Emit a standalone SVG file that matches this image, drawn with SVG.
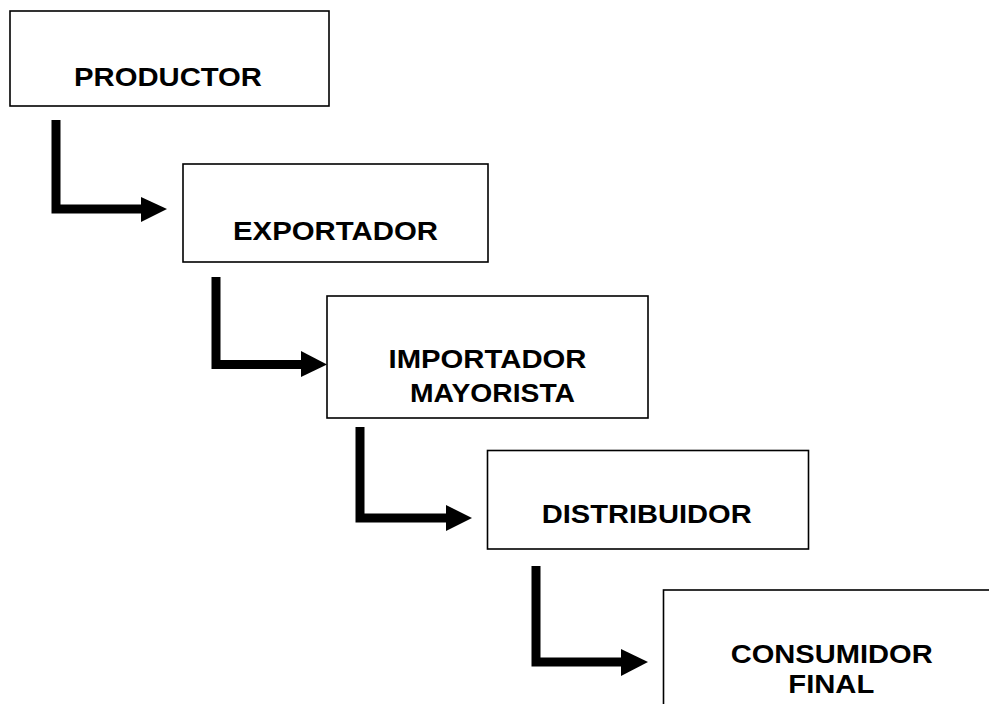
<svg xmlns="http://www.w3.org/2000/svg" width="989" height="704" viewBox="0 0 989 704">
<style>
.box{fill:#fff;stroke:#000;stroke-width:1.6}
.lbl{font-family:"Liberation Sans",Arial,sans-serif;font-weight:bold;font-size:25.5px;fill:#000}
.conn{fill:none;stroke:#000;stroke-width:9;stroke-linejoin:miter}
.head{fill:#000;stroke:none}
</style>
<rect width="989" height="704" fill="#fff"/>
<g id="productor">
<rect class="box" x="10" y="11" width="319" height="95"/>
<text class="lbl" x="74" y="86" textLength="188" lengthAdjust="spacingAndGlyphs">PRODUCTOR</text>
</g>
<g id="exportador">
<rect class="box" x="183" y="164" width="305" height="98"/>
<text class="lbl" x="233" y="239.5" textLength="205" lengthAdjust="spacingAndGlyphs">EXPORTADOR</text>
</g>
<g id="importador">
<rect class="box" x="327" y="296" width="321" height="122"/>
<text class="lbl" x="388.5" y="368" textLength="198" lengthAdjust="spacingAndGlyphs">IMPORTADOR</text>
<text class="lbl" x="410" y="401.5" textLength="165" lengthAdjust="spacingAndGlyphs">MAYORISTA</text>
</g>
<g id="distribuidor">
<rect class="box" x="487.5" y="450.5" width="321" height="98.5"/>
<text class="lbl" x="541.7" y="522.7" textLength="210" lengthAdjust="spacingAndGlyphs">DISTRIBUIDOR</text>
</g>
<g id="consumidor">
<rect class="box" x="663.5" y="590" width="340" height="130"/>
<text class="lbl" x="730.7" y="663" textLength="202" lengthAdjust="spacingAndGlyphs">CONSUMIDOR</text>
<text class="lbl" x="788.3" y="693" textLength="86" lengthAdjust="spacingAndGlyphs">FINAL</text>
</g>
<g id="connectors">
<path class="conn" d="M56,120 V209 H142"/>
<polygon class="head" points="141,197 167,209 141,222"/>
<path class="conn" d="M216,277 V364.5 H302"/>
<polygon class="head" points="301,351 327,364.5 301,377"/>
<path class="conn" d="M360,427 V518 H446"/>
<polygon class="head" points="446,505 472,518 446,531"/>
<path class="conn" d="M536,566 V662 H622"/>
<polygon class="head" points="621,649 648,662 621,676"/>
</g>
</svg>
